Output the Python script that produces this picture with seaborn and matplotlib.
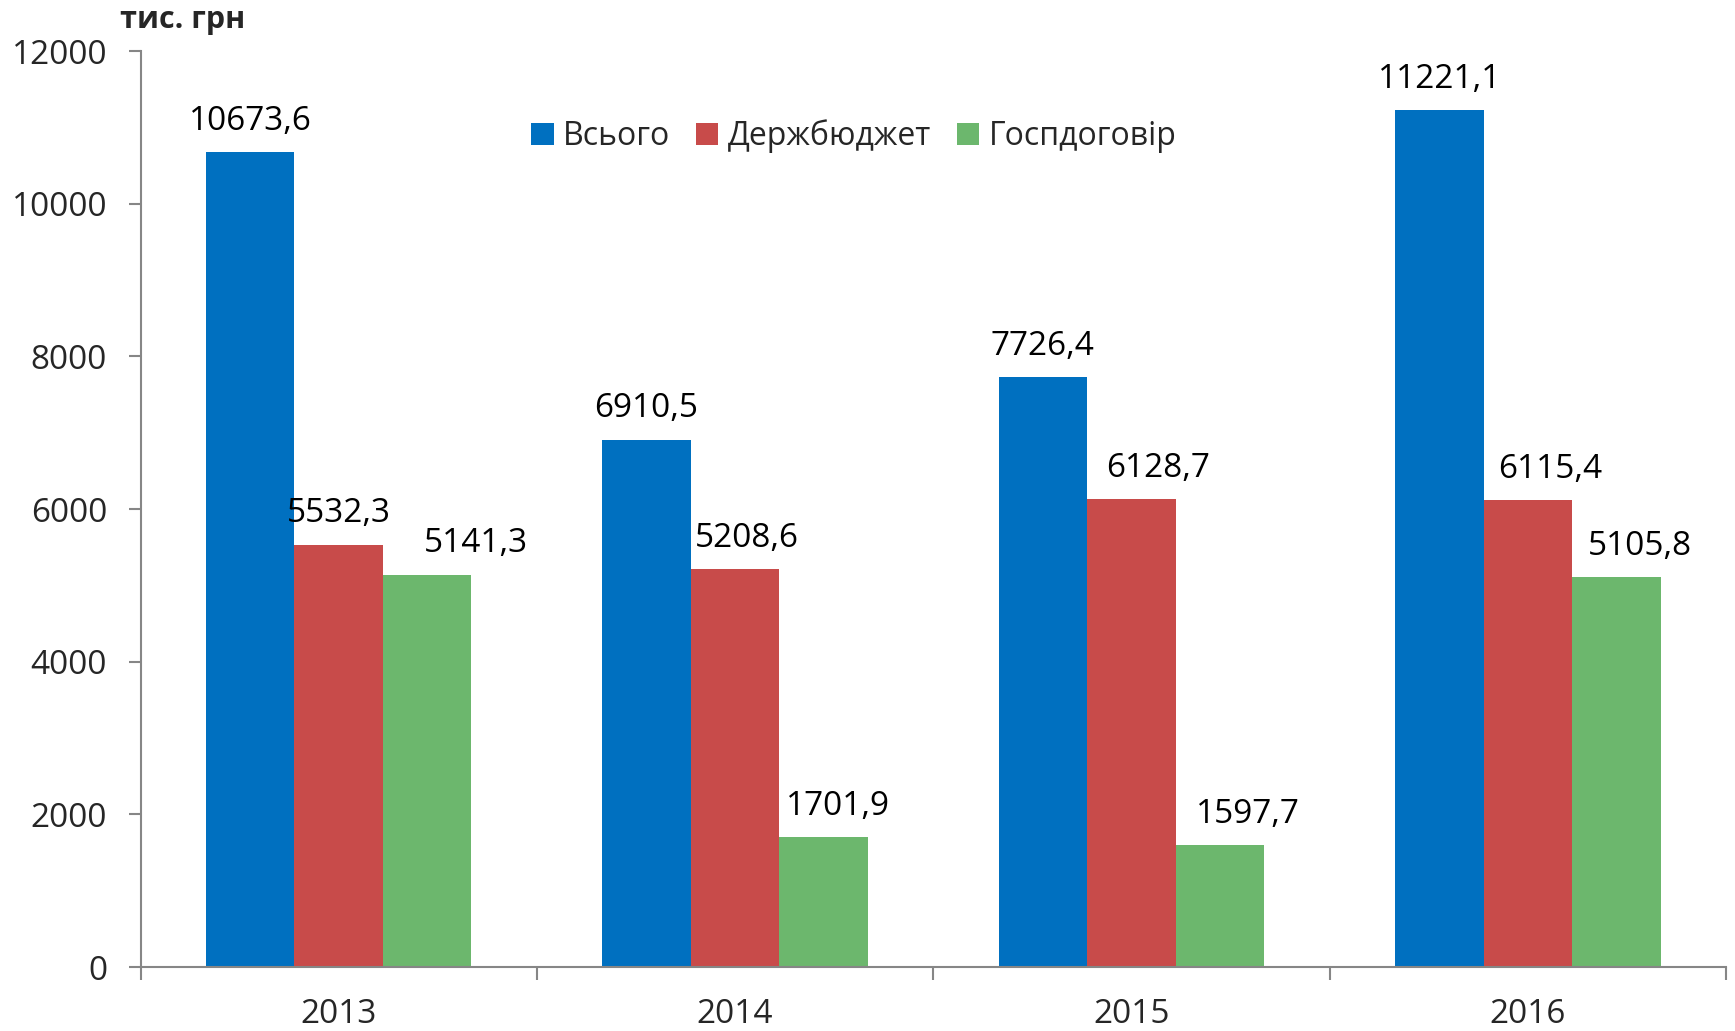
import pandas as pd
import matplotlib.pyplot as plt
import seaborn as sns

years = ["2013", "2014", "2015", "2016"]
series = ["Всього", "Держбюджет", "Госпдоговір"]
total = [10673.6, 6910.5, 7726.4, 11221.1]
state_budget = [5532.3, 5208.6, 6128.7, 6115.4]
contracts = [5141.3, 1701.9, 1597.7, 5105.8]
colors = ["#0070C0", "#C84B4A", "#6CB76D"]

# horizontal nudges of the value labels (pixels), as in the original layout
label_dx = [
    [0, 0, 0, 0],
    [0, 12, 27, 22],
    [49, 14, 28, 24],
]

df = pd.DataFrame({
    "Рік": years * 3,
    "Серія": [s for s in series for _ in years],
    "Значення": total + state_budget + contracts,
})

sns.set_style("white")
plt.rcParams["font.family"] = ["Open Sans", "DejaVu Sans"]

fig = plt.figure(figsize=(17.35, 10.31), dpi=100)
ax = fig.add_axes([0.081, 0.062, 0.9138, 0.8885])

sns.barplot(
    data=df, x="Рік", y="Значення", hue="Серія",
    palette=colors, width=0.67, saturation=1, ax=ax, errorbar=None,
    linewidth=0,
)

for cont, dxs in zip(ax.containers, label_dx):
    for bar, dx in zip(cont, dxs):
        h = bar.get_height()
        ax.annotate(
            f"{h:.1f}".replace(".", ","),
            (bar.get_x() + bar.get_width() / 2, h),
            xytext=(dx, 31), textcoords="offset pixels",
            ha="center", va="center", fontsize=24, color="black",
        )

ax.set_ylim(0, 12000)
ax.set_xlim(-0.5, 3.5)
ax.set_yticks(range(0, 12001, 2000))
ax.set_xlabel("")
ax.set_ylabel("")

for side in ["top", "right"]:
    ax.spines[side].set_visible(False)
for side in ["left", "bottom"]:
    ax.spines[side].set_color("#868686")
    ax.spines[side].set_linewidth(1.5)

ax.tick_params(axis="y", which="major", direction="out", length=9, width=1.5,
               color="#868686", pad=15, labelsize=24, left=True)
ax.tick_params(axis="x", which="major", length=0, pad=22, labelsize=24)
ax.set_xticks([0.5 + i for i in range(-1, 4)], minor=True)
ax.tick_params(axis="x", which="minor", direction="out", length=9, width=1.5,
               color="#868686", bottom=True)

leg = ax.legend(
    loc="center", bbox_to_anchor=(0.45, 0.907), ncol=3, frameon=False,
    fontsize=23, handlelength=0.7, handleheight=0.7, handletextpad=0.3,
    columnspacing=0.8,
)

fig.text(0.105, 0.981, "тис. грн", fontsize=22, fontweight="bold",
         ha="center", va="center")

fig.savefig("out.png", dpi=100)
